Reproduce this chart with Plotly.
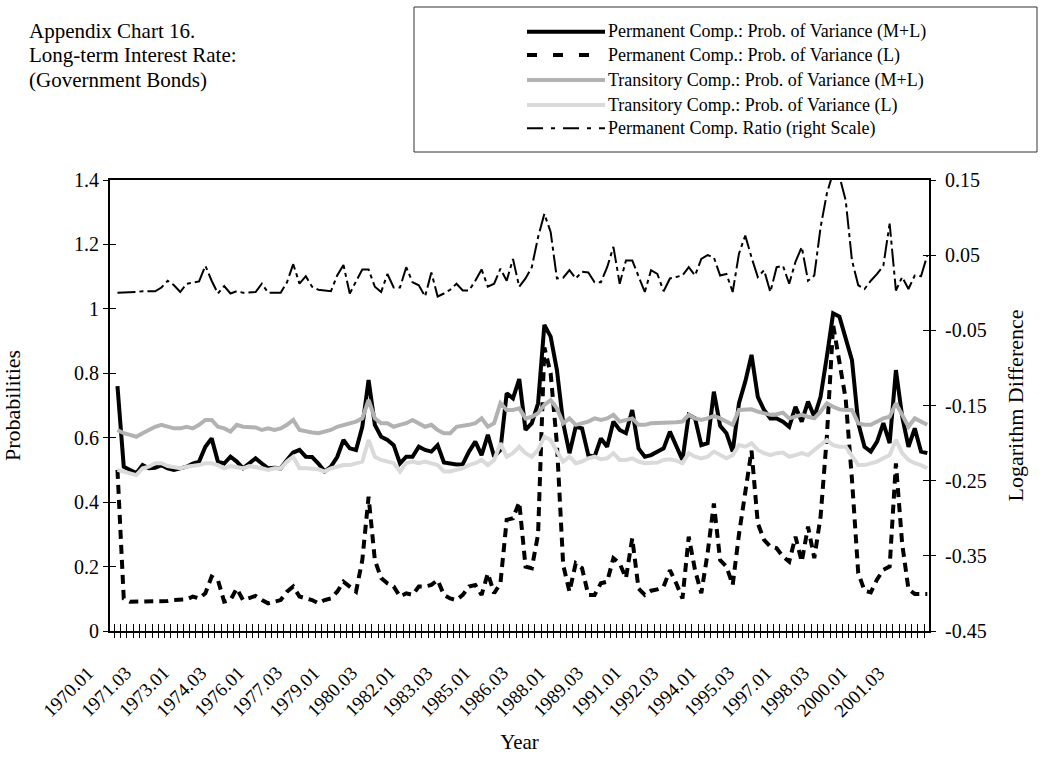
import plotly.graph_objects as go

# ---------------- data ----------------
quarters = [f"{y}.{q:02d}" for y in range(1970, 2003) for q in range(1, 5)][:130]

tick_labels = ["1970.01", "1971.03", "1973.01", "1974.03", "1976.01", "1977.03",
               "1979.01", "1980.03", "1982.01", "1983.03", "1985.01", "1986.03",
               "1988.01", "1989.03", "1991.01", "1992.03", "1994.01", "1995.03",
               "1997.01", "1998.03", "2000.01", "2001.03"]

perm_ml = [0.76, 0.51, 0.50, 0.49, 0.515, 0.505, 0.507, 0.515, 0.505, 0.50,
           0.505, 0.51, 0.52, 0.526, 0.572, 0.598, 0.526, 0.52, 0.541, 0.526,
           0.505, 0.52, 0.536, 0.52, 0.505, 0.507, 0.505, 0.531, 0.554, 0.562,
           0.541, 0.54, 0.52, 0.495, 0.51, 0.54, 0.593, 0.567, 0.562, 0.634,
           0.779, 0.64, 0.603, 0.593, 0.577, 0.52, 0.541, 0.541, 0.572, 0.562,
           0.557, 0.577, 0.523, 0.52, 0.517, 0.518, 0.557, 0.588, 0.546, 0.609,
           0.541, 0.562, 0.738, 0.722, 0.782, 0.624, 0.645, 0.707, 0.95, 0.914,
           0.81, 0.645, 0.552, 0.634, 0.629, 0.546, 0.541, 0.598, 0.572, 0.65,
           0.624, 0.614, 0.686, 0.567, 0.541, 0.546, 0.557, 0.567, 0.619, 0.572,
           0.531, 0.671, 0.66, 0.577, 0.583, 0.743, 0.637, 0.614, 0.557, 0.707,
           0.774, 0.857, 0.727, 0.686, 0.66, 0.66, 0.65, 0.634, 0.696, 0.65,
           0.712, 0.665, 0.727, 0.852, 0.986, 0.976, 0.909, 0.841, 0.645, 0.572,
           0.557, 0.588, 0.645, 0.583, 0.81, 0.665, 0.572, 0.629, 0.557, 0.552]

perm_l = [0.50, 0.101, 0.091, 0.091, 0.091, 0.091, 0.091, 0.093, 0.093, 0.096,
          0.096, 0.098, 0.107, 0.101, 0.117, 0.169, 0.158, 0.091, 0.096, 0.132,
          0.096, 0.101, 0.109, 0.096, 0.086, 0.091, 0.096, 0.122, 0.138, 0.107,
          0.101, 0.096, 0.086, 0.096, 0.101, 0.122, 0.153, 0.138, 0.122, 0.22,
          0.417, 0.22, 0.164, 0.148, 0.138, 0.107, 0.117, 0.112, 0.138, 0.138,
          0.143, 0.158, 0.112, 0.101, 0.096, 0.112, 0.138, 0.143, 0.112, 0.179,
          0.117, 0.148, 0.345, 0.35, 0.40, 0.20, 0.195, 0.30, 0.88, 0.80,
          0.58, 0.205, 0.122, 0.21, 0.195, 0.112, 0.112, 0.148, 0.153, 0.226,
          0.21, 0.164, 0.288, 0.132, 0.112, 0.125, 0.129, 0.138, 0.189, 0.148,
          0.101, 0.293, 0.189, 0.117, 0.241, 0.396, 0.22, 0.20, 0.143, 0.30,
          0.43, 0.56, 0.334, 0.283, 0.262, 0.257, 0.231, 0.215, 0.293, 0.215,
          0.324, 0.226, 0.355, 0.603, 0.95, 0.84, 0.72, 0.47, 0.18, 0.125,
          0.12, 0.16, 0.19, 0.20, 0.52, 0.27, 0.13, 0.115, 0.115, 0.115]

trans_ml = [0.624, 0.614, 0.609, 0.603, 0.614, 0.624, 0.634, 0.640, 0.634, 0.629,
            0.629, 0.634, 0.629, 0.640, 0.655, 0.655, 0.634, 0.629, 0.619, 0.640,
            0.634, 0.634, 0.632, 0.624, 0.629, 0.624, 0.629, 0.640, 0.655, 0.624,
            0.619, 0.616, 0.614, 0.619, 0.624, 0.634, 0.640, 0.645, 0.650, 0.660,
            0.717, 0.660, 0.645, 0.645, 0.634, 0.640, 0.645, 0.655, 0.645, 0.634,
            0.640, 0.624, 0.614, 0.614, 0.634, 0.636, 0.640, 0.645, 0.660, 0.634,
            0.645, 0.707, 0.686, 0.686, 0.691, 0.660, 0.665, 0.676, 0.702, 0.717,
            0.691, 0.645, 0.660, 0.640, 0.645, 0.650, 0.660, 0.655, 0.660, 0.671,
            0.650, 0.655, 0.660, 0.640, 0.640, 0.645, 0.645, 0.645, 0.645, 0.648,
            0.650, 0.671, 0.660, 0.655, 0.660, 0.668, 0.660, 0.650, 0.640, 0.686,
            0.688, 0.688, 0.681, 0.676, 0.671, 0.673, 0.678, 0.660, 0.665, 0.671,
            0.665, 0.660, 0.681, 0.707, 0.696, 0.688, 0.686, 0.686, 0.645, 0.640,
            0.640, 0.650, 0.660, 0.665, 0.707, 0.671, 0.634, 0.660, 0.650, 0.640]

trans_l = [0.500, 0.495, 0.490, 0.484, 0.505, 0.510, 0.521, 0.521, 0.512, 0.508,
           0.505, 0.510, 0.512, 0.515, 0.521, 0.521, 0.515, 0.505, 0.512, 0.510,
           0.505, 0.512, 0.510, 0.505, 0.500, 0.505, 0.505, 0.526, 0.541, 0.505,
           0.505, 0.502, 0.502, 0.495, 0.505, 0.510, 0.515, 0.515, 0.521, 0.526,
           0.593, 0.541, 0.531, 0.526, 0.521, 0.495, 0.521, 0.526, 0.521, 0.526,
           0.521, 0.515, 0.495, 0.495, 0.500, 0.505, 0.515, 0.521, 0.531, 0.515,
           0.531, 0.583, 0.541, 0.552, 0.572, 0.552, 0.541, 0.562, 0.603, 0.593,
           0.557, 0.526, 0.541, 0.521, 0.526, 0.536, 0.541, 0.533, 0.536, 0.552,
           0.531, 0.531, 0.536, 0.526, 0.521, 0.521, 0.523, 0.531, 0.533, 0.529,
           0.521, 0.552, 0.541, 0.536, 0.541, 0.557, 0.546, 0.536, 0.546, 0.577,
           0.572, 0.583, 0.562, 0.552, 0.546, 0.552, 0.554, 0.541, 0.546, 0.552,
           0.546, 0.562, 0.577, 0.593, 0.577, 0.572, 0.572, 0.541, 0.515, 0.515,
           0.521, 0.526, 0.536, 0.546, 0.593, 0.552, 0.531, 0.521, 0.515, 0.505]

perm_ratio = [0.000, 0.000, 0.000, 0.001, 0.002, 0.002, 0.002, 0.007, 0.016, 0.010,
              0.001, 0.012, 0.014, 0.015, 0.036, 0.016, -0.001, 0.009, -0.001, 0.002,
              0.000, 0.000, 0.001, 0.012, 0.000, 0.000, 0.000, 0.014, 0.038, 0.012,
              0.022, 0.008, 0.004, 0.003, 0.002, 0.023, 0.037, -0.001, 0.016, 0.031,
              0.031, 0.008, 0.001, 0.025, 0.007, 0.007, 0.034, 0.014, 0.010, -0.005,
              0.027, -0.005, -0.001, 0.004, 0.012, 0.003, 0.003, 0.016, 0.031, 0.008,
              0.012, 0.032, 0.016, 0.045, 0.008, 0.019, 0.034, 0.074, 0.105, 0.081,
              0.019, 0.020, 0.030, 0.019, 0.028, 0.027, 0.014, 0.014, 0.034, 0.061,
              0.012, 0.043, 0.043, 0.021, 0.001, 0.030, 0.025, 0.002, 0.019, 0.021,
              0.023, 0.034, 0.023, 0.045, 0.050, 0.047, 0.023, 0.025, 0.001, 0.052,
              0.076, 0.047, 0.021, 0.030, 0.001, 0.034, 0.036, 0.012, 0.041, 0.061,
              0.016, 0.023, 0.087, 0.132, 0.160, 0.155, 0.123, 0.043, 0.010, 0.005,
              0.016, 0.025, 0.036, 0.092, 0.003, 0.021, 0.005, 0.023, 0.022, 0.050]

left_ticks = [0, 0.2, 0.4, 0.6, 0.8, 1.0, 1.2, 1.4]
right_ticks = [-0.45, -0.35, -0.25, -0.15, -0.05, 0.05, 0.15]
right_tick_text = ["-0.45", "-0.35", "-0.25", "-0.15", "-0.05", "0.05", "0.15"]

series_names = ["Permanent Comp.: Prob. of Variance (M+L)",
                "Permanent Comp.: Prob. of Variance (L)",
                "Transitory Comp.: Prob. of Variance (M+L)",
                "Transitory Comp.: Prob. of Variance (L)",
                "Permanent Comp. Ratio (right Scale)"]

# ---------------- layout geometry ----------------
W, H = 1041, 757
ML, MR, MT, MB = 110, 112, 180, 126
PW, PH = W - ML - MR, H - MT - MB
FONT = "Liberation Serif, Times New Roman, serif"


def px_x(px):
    return (px - ML) / PW


def px_y(py):
    return (H - MB - py) / PH


x_idx = list(range(len(quarters)))
x_range = [-1.19, len(quarters) - 1 + 0.27]

styles = [
    dict(color="black", width=4),
    dict(color="black", width=4, dash="9px,6px"),
    dict(color="#b2b2b2", width=4),
    dict(color="#dadada", width=4),
    dict(color="black", width=2, dash="18px,4px,4px,4px"),
]
legend_styles = [
    dict(color="black", width=4),
    dict(color="black", width=4, dash="10px,16px"),
    dict(color="#b2b2b2", width=4),
    dict(color="#dadada", width=4),
    dict(color="black", width=2, dash="16px,8px,4px,8px"),
]

fig = go.Figure()
series = [perm_ml, perm_l, trans_ml, trans_l]
for name, vals, st in zip(series_names[:4], series, styles[:4]):
    fig.add_trace(go.Scatter(x=x_idx, y=vals, mode="lines", name=name,
                             line=st, showlegend=False,
                             customdata=quarters, hovertemplate="%{customdata}: %{y}"))
fig.add_trace(go.Scatter(x=x_idx, y=perm_ratio, mode="lines", name=series_names[4],
                         line=styles[4], yaxis="y2", showlegend=False,
                         customdata=quarters, hovertemplate="%{customdata}: %{y}"))
# empty traces to activate the inner-tick overlay axes
fig.add_trace(go.Scatter(x=[], y=[], xaxis="x2", yaxis="y3", showlegend=False, hoverinfo="skip"))
fig.add_trace(go.Scatter(x=[], y=[], xaxis="x2", yaxis="y4", showlegend=False, hoverinfo="skip"))

axis_common = dict(showgrid=False, zeroline=False, tickcolor="black", tickwidth=1)

fig.update_layout(
    width=W, height=H,
    margin=dict(l=ML, r=MR, t=MT, b=MB, autoexpand=False),
    paper_bgcolor="white", plot_bgcolor="white",
    font=dict(family=FONT, size=18, color="black"),
    xaxis=dict(range=x_range, tick0=0.5, dtick=1, ticks="outside", ticklen=5,
               showticklabels=False, showline=True, linecolor="black", linewidth=2,
               mirror=True, title=dict(text="Year", font=dict(size=21), standoff=97),
               **axis_common),
    xaxis2=dict(range=x_range, overlaying="x", anchor="y", tick0=0.5, dtick=1,
                ticks="inside", ticklen=7, showticklabels=False, showline=False,
                **axis_common),
    yaxis=dict(range=[0, 1.4], tickvals=left_ticks, ticks="outside", ticklen=5,
               showline=True, linecolor="black", linewidth=2,
               tickfont=dict(size=20),
               title=dict(text="Probabilities", font=dict(size=22), standoff=50),
               **axis_common),
    yaxis2=dict(range=[-0.45, 0.15], tickvals=right_ticks, ticktext=right_tick_text,
                overlaying="y", side="right", ticks="outside", ticklen=5,
                ticklabelstandoff=5,
                showline=True, linecolor="black", linewidth=2,
                tickfont=dict(size=20),
                title=dict(text="Logarithm Difference", font=dict(size=22), standoff=22),
                **axis_common),
    yaxis3=dict(range=[0, 1.4], tickvals=left_ticks, overlaying="y", side="left",
                ticks="inside", ticklen=6, showticklabels=False, showline=False,
                **axis_common),
    yaxis4=dict(range=[-0.45, 0.15], tickvals=right_ticks, overlaying="y", side="right",
                ticks="inside", ticklen=6, showticklabels=False, showline=False,
                **axis_common),
    showlegend=False,
)

annotations = []
# x tick labels (rotated), attached to their categories
for lab in tick_labels:
    annotations.append(dict(x=quarters.index(lab), xref="x", y=0, yref="y",
                            text=lab, textangle=-45, showarrow=False,
                            xanchor="right", yanchor="top", xshift=-17, yshift=-28,
                            font=dict(size=19)))

# chart title
title_lines = ["Appendix Chart 16.", "Long-term Interest Rate:", "(Government Bonds)"]
for line, yc in zip(title_lines, [31, 55, 80]):
    annotations.append(dict(x=px_x(27), xref="paper", y=px_y(yc), yref="paper",
                            text=line, showarrow=False, xanchor="left", yanchor="middle",
                            font=dict(size=21)))

# custom legend (box, long samples, labels)
shapes = [dict(type="rect", xref="paper", yref="paper",
               x0=px_x(414), x1=px_x(1037), y0=px_y(152), y1=px_y(7),
               line=dict(color="#333333", width=1), fillcolor="white", layer="below")]
rows = [31.7, 55, 80, 105, 128.3]
for name, st, yr in zip(series_names, legend_styles, rows):
    shapes.append(dict(type="line", xref="paper", yref="paper",
                       x0=px_x(527), x1=px_x(605), y0=px_y(yr), y1=px_y(yr), line=st))
    annotations.append(dict(x=px_x(606), xref="paper", y=px_y(yr), yref="paper",
                            text=name, showarrow=False, xanchor="left", yanchor="middle",
                            font=dict(size=18)))

fig.update_layout(annotations=annotations, shapes=shapes)
fig.write_html("out.html", config={"displayModeBar": False},
               post_script="document.body.style.margin='0px';")
